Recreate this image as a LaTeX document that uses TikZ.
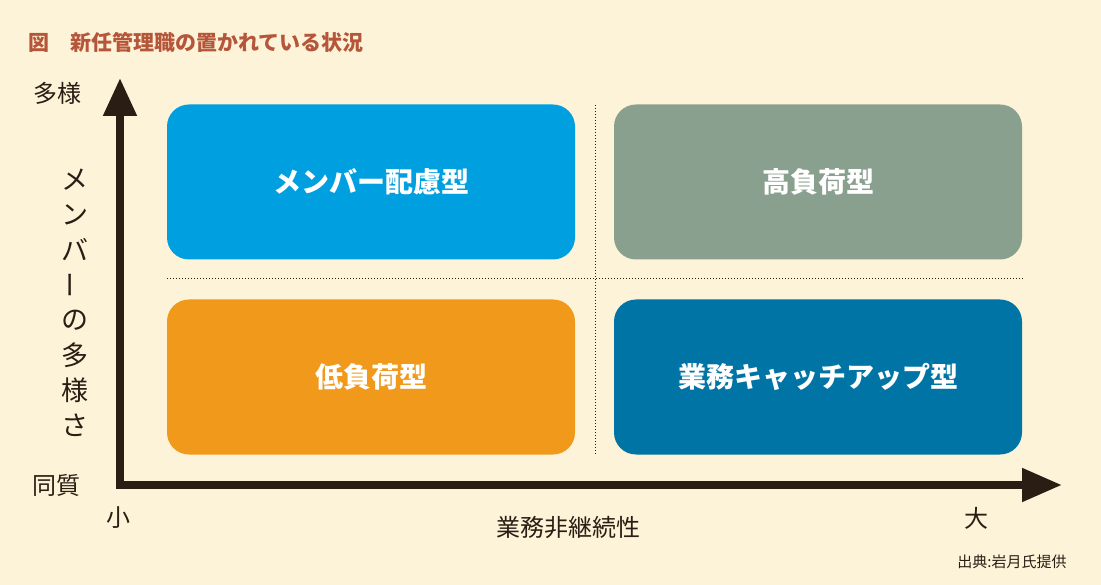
\documentclass[tikz,border=0pt]{standalone}
\usepackage{fontspec}
\setmainfont{Noto Sans CJK JP}
\newfontfamily\jp{Noto Sans CJK JP}
\usetikzlibrary{arrows.meta}
\definecolor{bg}{HTML}{FDF3D8}
\definecolor{ttl}{HTML}{B5563A}
\definecolor{axc}{HTML}{2A1E14}
\definecolor{cA}{HTML}{00A0E0}
\definecolor{cB}{HTML}{8AA08E}
\definecolor{cC}{HTML}{F0991A}
\definecolor{cD}{HTML}{0075A5}
\tikzset{quad/.style={rounded corners=22pt,minimum width=408pt,minimum height=155pt,text=white,font=\fontsize{28}{32}\selectfont\bfseries,inner sep=0pt},
lab/.style={text=axc,font=\fontsize{24}{28}\selectfont,inner sep=0pt},
vch/.style={text=axc,font=\fontsize{27}{30}\selectfont,inner sep=0pt}}
\begin{document}
\begin{tikzpicture}[x=1pt,y=-1pt]
\fill[bg] (0,0) rectangle (1101,585);
\useasboundingbox (0,0) rectangle (1101,585);
\node[anchor=west,text=ttl,font=\fontsize{21}{24}\selectfont\bfseries,inner sep=0pt] (title) at (28,42) {図\quad 新任管理職の置かれている状況};
\node[quad,fill=cA] (a) at (371,182) {メンバー配慮型};
\node[quad,fill=cB] (b) at (818,182) {高負荷型};
\node[quad,fill=cC] (c) at (371,377) {低負荷型};
\node[quad,fill=cD] (d) at (818,377) {業務キャッチアップ型};
\coordinate (vt) at (595,105); \coordinate (vb) at (595,455);
\coordinate (hl) at (167,279); \coordinate (hr) at (1023,279);
\draw[axc,dotted,line width=1pt] (vt)--(vb);
\draw[axc,dotted,line width=1pt] (hl)--(hr);
\coordinate (o) at (120,485); \coordinate (ytop) at (120,78); \coordinate (xr) at (1062,485);
\draw[axc,line width=8pt,-{Triangle[length=38pt,width=32pt]}] ([yshift=4pt]o)--(ytop);
\draw[axc,line width=8pt,-{Triangle[length=40pt,width=32pt]}] ([xshift=-4pt]o)--(xr);
\node[lab] (l1) at (58,93) {多様};
\node[lab] (l2) at (56,485) {同質};
\node[lab] (l3) at (118,518) {小};
\node[lab] (l4) at (976,518) {大};
\node[lab] (l5) at (568,527) {業務非継続性};
\node[text=axc,font=\fontsize{15}{18}\selectfont,inner sep=0pt] (src) at (1012,562) {出典:岩月氏提供};
\foreach \ch [count=\i] in {メ,ン,バ,{\rotatebox{90}{ー}},の,多,様,さ}
  \node[vch] (v\i) at (75,{145+35*\i}) {\ch};
\end{tikzpicture}
\end{document}
